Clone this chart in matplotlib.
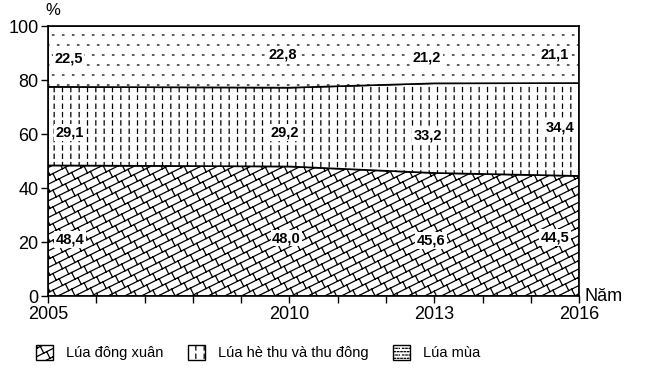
import matplotlib
matplotlib.use("Agg")
import matplotlib.pyplot as plt
import numpy as np
from matplotlib import hatch as mhatch
from matplotlib.path import Path
from matplotlib.patches import Patch

years = [2005, 2010, 2013, 2016]
dong_xuan = [48.4, 48.0, 45.6, 44.5]
he_thu = [29.1, 29.2, 33.2, 34.4]
lua_mua = [22.5, 22.8, 21.2, 21.1]
labels = ["Lúa đông xuân", "Lúa hè thu và thu đông", "Lúa mùa"]


# ---- custom hatch textures (unit tile = 1 inch) ----
class _SegHatch(mhatch.HatchPatternBase):
    char = ''

    def __init__(self, hatch, density):
        n = hatch.count(self.char)
        self.segs = self.make(n) if n else []
        self.num_vertices = 2 * len(self.segs)

    def set_vertices_and_codes(self, vertices, codes):
        for i, (a, b) in enumerate(self.segs):
            vertices[2 * i] = a
            vertices[2 * i + 1] = b
            codes[2 * i] = Path.MOVETO
            codes[2 * i + 1] = Path.LINETO


class DashedVertical(_SegHatch):
    char = '|'

    def make(self, n):
        nc, nr = 12 * n, 12 * n
        dash = 0.5 / nr
        return [((x, y), (x, y + dash))
                for x in (np.arange(nc) + 0.5) / nc
                for y in np.arange(nr) / nr]


class Brick(_SegHatch):
    char = '/'

    def make(self, n):
        segs = []
        step = 1 / 12
        for k in range(-7, 14):
            c = k * step
            segs.append(((-0.05, -0.025 + c), (1.05, 0.525 + c)))
        P = 0.125
        for k in range(-8, 15):
            for m in range(-2, 11):
                x = (k % 2) * P / 2 + m * P
                y = x / 2 + k * step
                segs.append(((x, y), (x - 1 / 30, y + 1 / 15)))
        return segs


class Dots(_SegHatch):
    char = '.'

    def make(self, n):
        nr = 10 * n
        d = 0.014
        segs = []
        for i in range(nr):
            y = (i + 0.5) / nr
            off = (i % 2) * 0.5 / nr
            for j in range(nr):
                x = j / nr + off + 0.25 / nr
                segs.append(((x, y), (x + d, y)))
        return segs


_repl = {mhatch.VerticalHatch: DashedVertical,
         mhatch.NorthEastHatch: Brick,
         mhatch.SmallFilledCircles: Dots}
mhatch._hatch_types = [_repl.get(t, t) for t in mhatch._hatch_types]

plt.rcParams['font.family'] = ['Liberation Sans', 'DejaVu Sans']
plt.rcParams['hatch.linewidth'] = 0.9
plt.rcParams['hatch.color'] = 'black'

fig = plt.figure(figsize=(6.5, 3.84), dpi=100)
ax = fig.add_axes([0.074, 0.229, 0.817, 0.703])

hatches = ['/', '|', '.']
polys = ax.stackplot(years, dong_xuan, he_thu, lua_mua, colors=['white'] * 3,
                     edgecolor='black', linewidth=1.2)
for p, h in zip(polys, hatches):
    p.set_hatch(h)
    p.set_edgecolor('black')

ax.set_xlim(2005, 2016)
ax.set_ylim(0, 100)
ax.set_xticks(years)
ax.set_xticks(range(2005, 2017), minor=True)
ax.set_yticks(range(0, 101, 20))
ax.tick_params(axis='both', labelsize=13, direction='out', length=5, width=1, pad=2)
ax.tick_params(axis='x', which='minor', length=5, width=1)
for s in ax.spines.values():
    s.set_linewidth(1.2)

ax.text(-0.005, 1.03, "%", transform=ax.transAxes, fontsize=12, ha='left', va='bottom')
ax.text(1.01, 0.0, "Năm", transform=ax.transAxes, fontsize=13, ha='left', va='center')

# value labels
lab_x_low = [2005.45, 2009.94, 2012.93, 2015.5]
lab_x_mid = [2005.45, 2009.9, 2012.87, 2015.6]
lab_x_top = [2005.42, 2009.87, 2012.85, 2015.5]
ys_low = [21.1, 21.5, 20.7, 21.8]
ys_mid = [60.7, 60.7, 59.6, 62.6]
ys_top = [88.1, 89.3, 88.5, 89.3]
box = dict(boxstyle='square,pad=0.1', fc='white', ec='none')
for xs, ys, vals in ((lab_x_low, ys_low, dong_xuan), (lab_x_mid, ys_mid, he_thu),
                     (lab_x_top, ys_top, lua_mua)):
    for x, yv, val in zip(xs, ys, vals):
        ax.text(x, yv, f"{val:.1f}".replace('.', ','), ha='center', va='center',
                fontsize=10.5, fontweight='bold', bbox=box)

handles = [Patch(facecolor='white', edgecolor='black', hatch=h, linewidth=1)
           for h in ['/', '|', '...']]
fig.legend(handles, labels, loc='center left', bbox_to_anchor=(0.055, 0.081), ncol=3,
           frameon=False, fontsize=10.5, handlelength=1.15, handleheight=1.15,
           columnspacing=1.7, handletextpad=0.9, borderpad=0, borderaxespad=0)

fig.savefig("out.png", dpi=100)
